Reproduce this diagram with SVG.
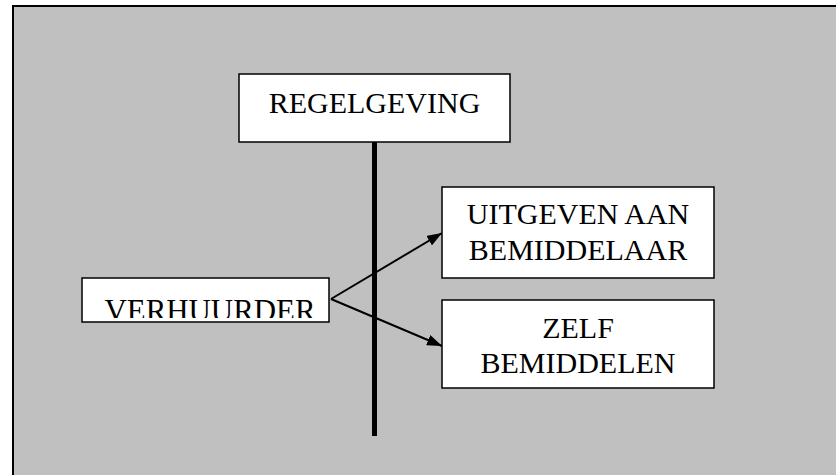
<svg xmlns="http://www.w3.org/2000/svg" width="836" height="475" viewBox="0 0 836 475">
<style>
.box{fill:#fff;stroke:#000;stroke-width:1.5}
.t{font-family:"Liberation Serif","Times New Roman",serif;font-size:30px;fill:#000;text-anchor:middle}
.c{stroke:#000;stroke-width:2;fill:none}
</style>
<defs>
<marker id="ah" markerWidth="15" markerHeight="11" refX="15" refY="5.5" orient="auto" markerUnits="userSpaceOnUse">
<path d="M0,0 L15,5.5 L0,11 Z" fill="#000"/>
</marker>
<clipPath id="vclip"><rect x="82" y="278" width="247" height="40"/></clipPath>
</defs>
<rect x="0" y="0" width="836" height="475" fill="#fff"/>
<rect x="13" y="6" width="840" height="490" fill="#c0c0c0" stroke="#000" stroke-width="2"/>
<g id="connectors">
<line x1="374.5" y1="142" x2="374.5" y2="436" stroke="#000" stroke-width="5"/>
<line class="c" x1="331" y1="299" x2="442" y2="233" marker-end="url(#ah)"/>
<line class="c" x1="331" y1="299" x2="442" y2="346" marker-end="url(#ah)"/>
</g>
<g id="regelgeving">
<rect class="box" x="239" y="74" width="271" height="68"/>
<text class="t" x="374.5" y="113">REGELGEVING</text>
</g>
<g id="verhuurder">
<rect class="box" x="82" y="278" width="247" height="44"/>
<text class="t" x="210" y="321" clip-path="url(#vclip)" style="font-size:31px" textLength="211" lengthAdjust="spacingAndGlyphs">VERHUURDER</text>
</g>
<g id="uitgeven">
<rect class="box" x="442" y="187" width="272" height="91"/>
<text class="t" x="578" y="224">UITGEVEN AAN</text>
<text class="t" x="578" y="260">BEMIDDELAAR</text>
</g>
<g id="zelf">
<rect class="box" x="442" y="300" width="272" height="88"/>
<text class="t" x="578" y="338">ZELF</text>
<text class="t" x="578" y="373">BEMIDDELEN</text>
</g>
</svg>
